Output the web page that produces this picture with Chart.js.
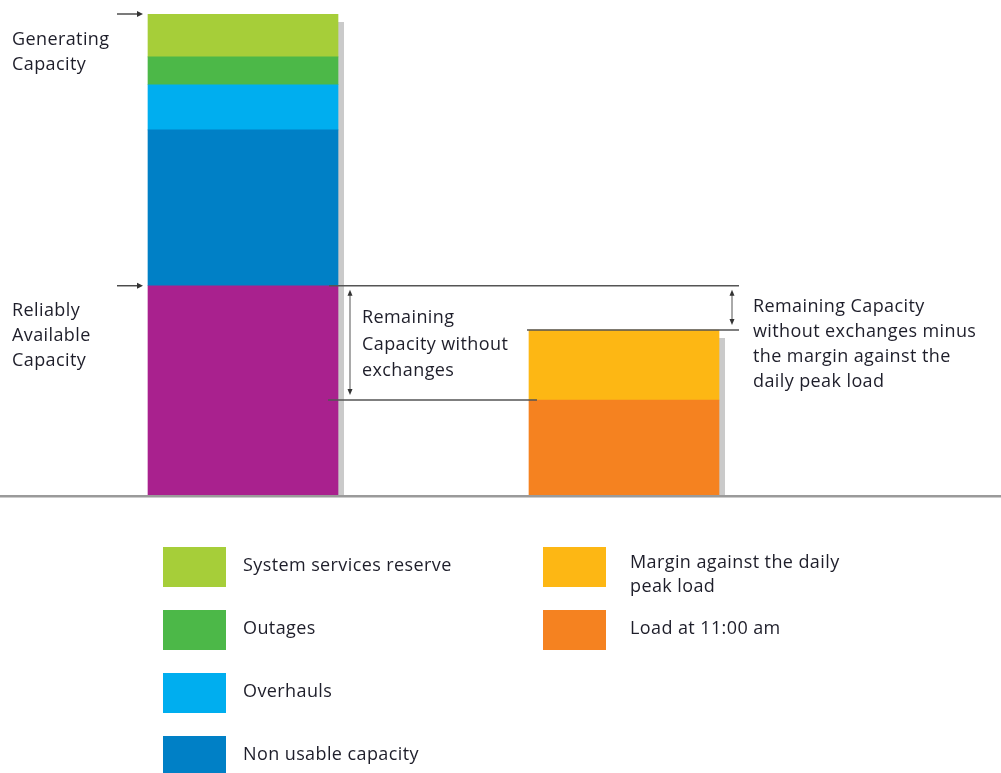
<!DOCTYPE html>
<html>
<head>
<meta charset="utf-8">
<script src="https://cdn.jsdelivr.net/npm/chart.js@4/dist/chart.umd.min.js"></script>
<style>
html,body{margin:0;padding:0;background:#fff;overflow:hidden;}
canvas{display:block;}
</style>
</head>
<body>
<canvas id="c" width="1001" height="773"></canvas>
<script>
// ---- data ----
const categories = ['Capacity', 'Load'];
const seriesNames = ['Reliably available capacity', 'Non usable capacity', 'Overhauls', 'Outages', 'System services reserve', 'Load at 11:00 am', 'Margin against the daily\npeak load'];
const capacityValues = [43.5, 32.4, 9.4, 5.8, 8.9];   // bottom -> top, first bar
const loadValues = [19.75, 14.55];                     // bottom -> top, second bar
const seriesColors = ['#a9218e', '#0080c6', '#00aeef', '#4cb848', '#a6ce39', '#f58220', '#fdb714'];
const legendCol1 = [4, 3, 2, 1];   // indexes of series shown in first legend column
const legendCol2 = [6, 5];
const yMax = 100;

const datasets = [];
capacityValues.forEach((v, i) => datasets.push({label: seriesNames[i], data: [v, null], backgroundColor: seriesColors[i]}));
loadValues.forEach((v, i) => datasets.push({label: seriesNames[5 + i], data: [null, v], backgroundColor: seriesColors[5 + i]}));

const FONT = '18px "Open Sans", "DejaVu Sans", sans-serif';
const TXT = '#1e1e2a';
const LINE = '#555';

function text(ctx, lines, x, y, lh) {
  ctx.save();
  ctx.font = FONT; ctx.fillStyle = TXT; ctx.textBaseline = 'middle'; ctx.textAlign = 'left';
  try { ctx.letterSpacing = '0.4px'; } catch(e) {}
  lines.forEach((l, i) => ctx.fillText(l, x, y + i * lh));
  ctx.restore();
}
function hline(ctx, x1, x2, y) {
  ctx.save(); ctx.strokeStyle = LINE; ctx.lineWidth = 1.5;
  ctx.beginPath(); ctx.moveTo(x1, y); ctx.lineTo(x2, y); ctx.stroke(); ctx.restore();
}
function rightArrow(ctx, x1, x2, y) {
  ctx.save(); ctx.strokeStyle = '#333'; ctx.fillStyle = '#333'; ctx.lineWidth = 1.3;
  ctx.beginPath(); ctx.moveTo(x1, y); ctx.lineTo(x2 - 4, y); ctx.stroke();
  ctx.beginPath(); ctx.moveTo(x2, y); ctx.lineTo(x2 - 6, y - 3); ctx.lineTo(x2 - 6, y + 3); ctx.closePath(); ctx.fill();
  ctx.restore();
}
function vDoubleArrow(ctx, x, y1, y2) {
  ctx.save(); ctx.strokeStyle = LINE; ctx.fillStyle = '#333'; ctx.lineWidth = 1;
  ctx.beginPath(); ctx.moveTo(x, y1 + 3); ctx.lineTo(x, y2 - 3); ctx.stroke();
  ctx.beginPath(); ctx.moveTo(x, y1); ctx.lineTo(x - 2.5, y1 + 6); ctx.lineTo(x + 2.5, y1 + 6); ctx.closePath(); ctx.fill();
  ctx.beginPath(); ctx.moveTo(x, y2); ctx.lineTo(x - 2.5, y2 - 6); ctx.lineTo(x + 2.5, y2 - 6); ctx.closePath(); ctx.fill();
  ctx.restore();
}

const annot = {
  id: 'annot',
  beforeDatasetsDraw(chart) {
    const ctx = chart.ctx, ys = chart.scales.y;
    const base = ys.getPixelForValue(0);
    const tops = [capacityValues.reduce((a, b) => a + b, 0), loadValues.reduce((a, b) => a + b, 0)];
    const bars = [chart.getDatasetMeta(0).data[0], chart.getDatasetMeta(5).data[1]];
    ctx.save(); ctx.fillStyle = '#cacaca';
    bars.forEach((b, i) => {
      const right = b.x + b.width / 2;
      const top = ys.getPixelForValue(tops[i]) + 8;
      ctx.fillRect(right, top, 6, base - top);
    });
    ctx.restore();
  },
  afterDatasetsDraw(chart) {
    const ctx = chart.ctx, ys = chart.scales.y;
    const base = ys.getPixelForValue(0);
    const b1 = chart.getDatasetMeta(0).data[0], b2 = chart.getDatasetMeta(5).data[1];
    const b1L = b1.x - b1.width / 2, b1R = b1.x + b1.width / 2;
    const b2L = b2.x - b2.width / 2, b2R = b2.x + b2.width / 2;
    const yTop = ys.getPixelForValue(capacityValues.reduce((a, b) => a + b, 0));
    const yRel = ys.getPixelForValue(capacityValues[0]);
    const yLoad = ys.getPixelForValue(loadValues[0]);
    const yMargin = ys.getPixelForValue(loadValues[0] + loadValues[1]);

    // baseline
    ctx.save(); ctx.fillStyle = '#9a9a9a'; ctx.fillRect(0, base, chart.width, 2.5); ctx.restore();

    // horizontal reference lines
    hline(ctx, b1R - 9, b2R + 20, yRel);
    hline(ctx, b1R - 10, b2L + 8, yLoad);
    hline(ctx, b2L - 2, b2R + 20, yMargin);

    // arrows
    rightArrow(ctx, 117, b1L - 5, yTop);
    rightArrow(ctx, 117, b1L - 5, yRel);
    vDoubleArrow(ctx, b1R + 12, yRel + 4, yLoad - 5);
    vDoubleArrow(ctx, b2R + 13, yRel + 4, yMargin - 5);

    // annotation text
    text(ctx, ['Generating', 'Capacity'], 12, 40, 25);
    text(ctx, ['Reliably', 'Available', 'Capacity'], 12, 311, 25);
    text(ctx, ['Remaining', 'Capacity without', 'exchanges'], 362, 318, 26.5);
    text(ctx, ['Remaining Capacity', 'without exchanges minus', 'the margin against the', 'daily peak load'], 753, 307, 25);

    // legend
    ctx.save();
    const drawCol = (idxs, sx, tx) => {
      idxs.forEach((si, r) => {
        const y = 547 + r * 63;
        ctx.fillStyle = seriesColors[si];
        ctx.fillRect(sx, y, 63, 40);
        const lines = seriesNames[si].split('\n');
        const ty = lines.length > 1 ? y + 16 : y + 19;
        text(ctx, lines, tx, ty, 24);
      });
    };
    drawCol(legendCol1, 163, 243);
    drawCol(legendCol2, 543, 630);
    ctx.restore();
  }
};

new Chart(document.getElementById('c'), {
  type: 'bar',
  data: {labels: categories, datasets},
  options: {
    responsive: false,
    devicePixelRatio: 1,
    animation: false,
    layout: {padding: {left: 52.5, right: 186.5, top: 14, bottom: 278}},
    datasets: {bar: {barThickness: 190, borderWidth: 0}},
    scales: {
      x: {stacked: true, display: false},
      y: {stacked: true, display: false, min: 0, max: yMax}
    },
    plugins: {legend: {display: false}, tooltip: {enabled: false}}
  },
  plugins: [annot]
});
</script>
</body>
</html>
